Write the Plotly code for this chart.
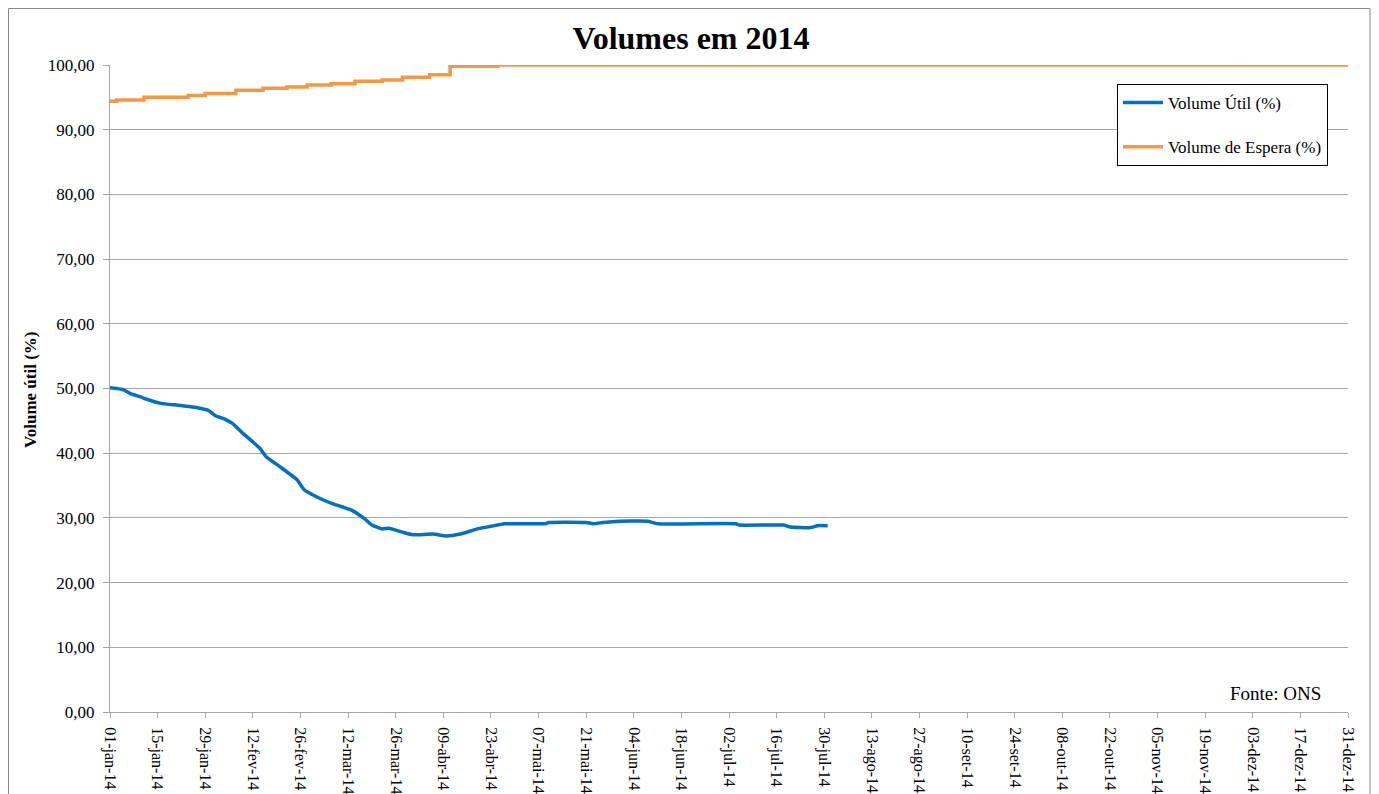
import pandas as pd
import plotly.graph_objects as go

# ---- data ----
util_dates = ["2014-01-01", "2014-01-03", "2014-01-05", "2014-01-07", "2014-01-10", "2014-01-12",
              "2014-01-16", "2014-01-21", "2014-01-27", "2014-01-30", "2014-02-01", "2014-02-04",
              "2014-02-06", "2014-02-09", "2014-02-14", "2014-02-16", "2014-02-20", "2014-02-25",
              "2014-02-27", "2014-03-03", "2014-03-07", "2014-03-13", "2014-03-17", "2014-03-19",
              "2014-03-22", "2014-03-24", "2014-03-28", "2014-03-31", "2014-04-06", "2014-04-10",
              "2014-04-14", "2014-04-19", "2014-04-23", "2014-04-27", "2014-05-09", "2014-05-10",
              "2014-05-21", "2014-05-23", "2014-05-26", "2014-05-31", "2014-06-08", "2014-06-11",
              "2014-07-04", "2014-07-05", "2014-07-18", "2014-07-20", "2014-07-26", "2014-07-28",
              "2014-07-31"]
util_vals = [50.1, 50.0, 49.8, 49.2, 48.7, 48.3,
             47.7, 47.4, 47.0, 46.6, 45.8, 45.2,
             44.6, 43.1, 40.8, 39.4, 37.9, 35.9,
             34.4, 33.2, 32.3, 31.2, 29.8, 28.9,
             28.3, 28.4, 27.8, 27.4, 27.5, 27.2,
             27.5, 28.3, 28.7, 29.1, 29.1, 29.3,
             29.3, 29.1, 29.3, 29.5, 29.5, 29.1,
             29.1, 28.9, 28.9, 28.6, 28.5, 28.8,
             28.8]

espera_dates = ["2014-01-01", "2014-01-03", "2014-01-11", "2014-01-24", "2014-01-29", "2014-02-07",
                "2014-02-15", "2014-02-22", "2014-02-28", "2014-03-07", "2014-03-14", "2014-03-22",
                "2014-03-28", "2014-04-05", "2014-04-11", "2014-04-25", "2014-12-31"]
espera_vals = [94.4, 94.6, 95.0, 95.3, 95.6, 96.1,
               96.4, 96.6, 96.9, 97.1, 97.5, 97.7,
               98.1, 98.5, 99.8, 100.0, 100.0]

meses = ["jan", "fev", "mar", "abr", "mai", "jun", "jul", "ago", "set", "out", "nov", "dez"]
tick_dates = pd.date_range("2014-01-01", "2014-12-31", freq="14D")
tick_text = [f"{d.day:02d}-{meses[d.month - 1]}-{d.strftime('%y')}" for d in tick_dates]

y_ticks = [0, 10, 20, 30, 40, 50, 60, 70, 80, 90, 100]

FONT = "Liberation Serif"
GRID = "#a6a6a6"

# page body has an 8px margin; figure is sized/offset to compensate
OFF = 8
W, H = 1379 - OFF, 794 - OFF
L, T = 110 - OFF, 65 - OFF
R = 1379 - 1348
B = 794 - 712
PW = W - L - R
PH = H - T - B

fig = go.Figure()
fig.add_trace(go.Scatter(
    x=util_dates, y=util_vals, mode="lines", name="Volume Útil (%)",
    line=dict(color="#0070C0", width=3.5, shape="spline", smoothing=0.4), legendgroup="a"))
fig.add_trace(go.Scatter(
    x=espera_dates, y=espera_vals, mode="lines", name="Volume de Espera (%)",
    line=dict(color="#F79646", width=3.5, shape="hv"), legendgroup="b"))

fig.update_layout(
    width=W, height=H,
    margin=dict(l=L, r=R, t=T, b=B, autoexpand=False),
    paper_bgcolor="white", plot_bgcolor="white",
    separators=",.",
    font=dict(family=FONT, size=16, color="black"),
    title=dict(text="<b>Volumes em 2014</b>", font=dict(family=FONT, size=32, color="black"),
               x=(691 - OFF) / W, xref="container", xanchor="center",
               y=1 - (38 - OFF) / H, yref="container", yanchor="middle"),
    xaxis=dict(
        type="date", range=["2014-01-01", "2014-12-31"], automargin=False,
        tickmode="array", tickvals=list(tick_dates), ticktext=tick_text,
        tickangle=90, ticks="outside", ticklen=5, tickcolor=GRID, ticklabelstandoff=6,
        showgrid=False, showline=True, linecolor=GRID, linewidth=1,
        tickfont=dict(family=FONT, size=16), zeroline=False),
    yaxis=dict(
        range=[0, 100], tickmode="array", tickvals=y_ticks, tickformat=".2f",
        automargin=False, ticklabelstandoff=5,
        ticks="outside", ticklen=6, tickcolor=GRID,
        showgrid=True, gridcolor=GRID, gridwidth=1,
        showline=True, linecolor=GRID, linewidth=1, zeroline=False,
        tickfont=dict(family=FONT, size=17)),
    legend=dict(
        x=(1117 - 110) / PW, y=(712 - 84) / PH, xanchor="left", yanchor="top",
        bordercolor="black", borderwidth=1, bgcolor="white",
        font=dict(family=FONT, size=17), tracegroupgap=19, traceorder="grouped",
        itemwidth=40),
    annotations=[
        dict(text="<b>Volume útil (%)</b>", textangle=-90, xref="paper", yref="paper",
             x=(30 - 110) / PW, y=(712 - 390) / PH, showarrow=False,
             xanchor="center", yanchor="middle",
             font=dict(family=FONT, size=17)),
        dict(text="Fonte: ONS", xref="paper", yref="paper",
             x=(1275 - 110) / PW, y=(712 - 693) / PH, showarrow=False,
             xanchor="center", yanchor="middle", font=dict(family=FONT, size=19)),
    ],
    shapes=[
        dict(type="rect", xref="paper", yref="paper",
             x0=(OFF + 0.5 - 110) / PW, x1=(1370 - 110) / PW,
             y0=(712 - 820) / PH, y1=(712 - OFF - 0.5) / PH,
             line=dict(color="#888888", width=1), fillcolor="rgba(0,0,0,0)", layer="below"),
    ],
)

fig.write_html("out.html")
